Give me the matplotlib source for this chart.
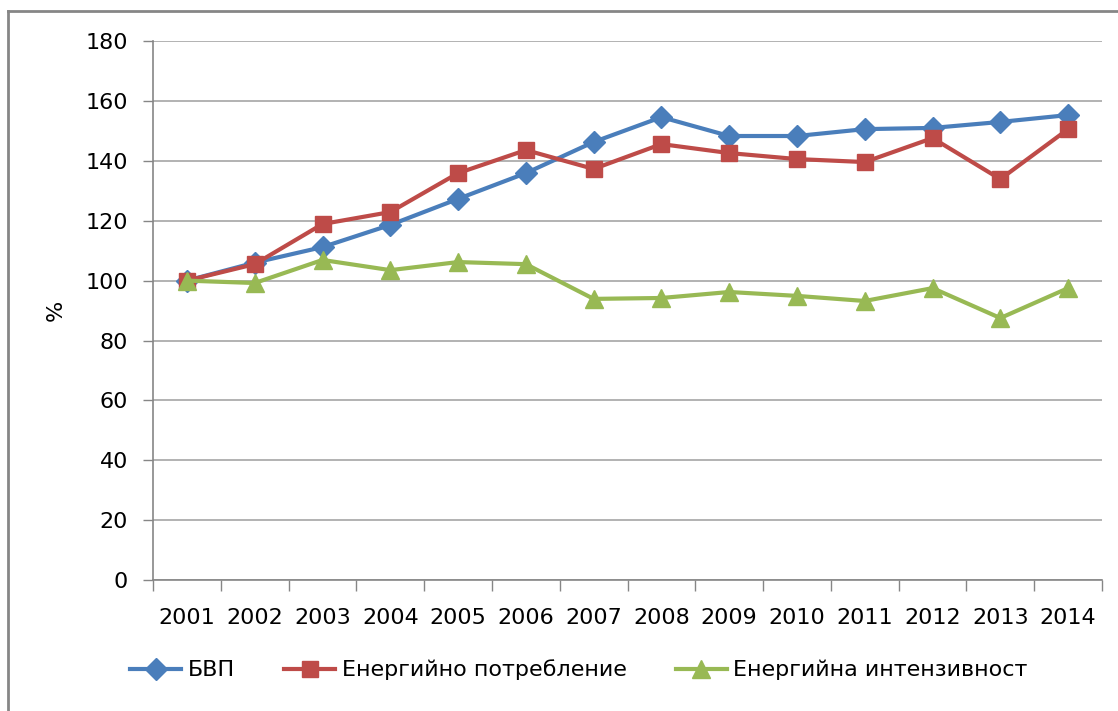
import matplotlib.pyplot as plt
from matplotlib.lines import Line2D
import numpy as np

years = ["2001", "2002", "2003", "2004", "2005", "2006", "2007",
         "2008", "2009", "2010", "2011", "2012", "2013", "2014"]
gdp = [100, 106, 111.2, 118.6, 127.3, 135.9, 146.3, 154.6, 148.3, 148.3, 150.6, 151, 153, 155.3]
energy_use = [100, 105.5, 118.9, 122.9, 135.9, 143.6, 137.3, 145.6, 142.6, 140.6, 139.6, 147.6, 133.9, 150.6]
intensity = [100, 99.2, 106.9, 103.5, 106.2, 105.5, 93.9, 94.2, 96.2, 94.9, 93.2, 97.5, 87.5, 97.5]
names = ["БВП", "Енергийно потребление", "Енергийна интензивност"]

plt.rcParams['font.family'] = ['DejaVu Sans']

fig = plt.figure(figsize=(11.18, 7.11), dpi=100)
ax = fig.add_axes([0.1369, 0.1842, 0.8488, 0.758])

x = np.arange(len(years))
ax.plot(x, gdp, color='#4A7EBB', lw=3, marker='D', ms=11, label=names[0])
ax.plot(x, energy_use, color='#BE4B48', lw=3, marker='s', ms=12, label=names[1])
ax.plot(x, intensity, color='#98B954', lw=3, marker='^', ms=13, label=names[2])

ax.set_xlim(-0.5, len(years) - 0.5)
ax.set_ylim(0, 180)
ax.set_yticks(range(0, 181, 20))
ax.set_xticks(x)
ax.set_xticklabels(years)
ax.set_xticks(np.arange(-0.5, len(years), 1), minor=True)
ax.tick_params(axis='x', which='major', length=0, pad=20, labelsize=16)
ax.tick_params(axis='x', which='minor', length=8, color='#868686', width=1)
ax.tick_params(axis='y', length=7, color='#868686', width=1, pad=11, labelsize=16)
ax.yaxis.grid(True, color='#A6A6A6', lw=1.2)
ax.set_axisbelow(True)
for s in ['top', 'right']:
    ax.spines[s].set_visible(False)
for s in ['left', 'bottom']:
    ax.spines[s].set_color('#868686')
    ax.spines[s].set_linewidth(1.2)
ax.set_ylabel("%", fontsize=16, labelpad=14)

fig.legend(loc='lower center', bbox_to_anchor=(0.518, 0.015), ncol=3, frameon=False,
           fontsize=16, handlelength=2.3, columnspacing=2.2, handletextpad=0.3)

# chart border (only top and left edges visible in the reference)
fig.add_artist(Line2D([0.0068, 1.0], [0.9845, 0.9845], transform=fig.transFigure,
                      color='#868686', lw=2))
fig.add_artist(Line2D([0.0068, 0.0068], [0.0, 0.9845], transform=fig.transFigure,
                      color='#868686', lw=2))

fig.savefig("out.png", dpi=100)
